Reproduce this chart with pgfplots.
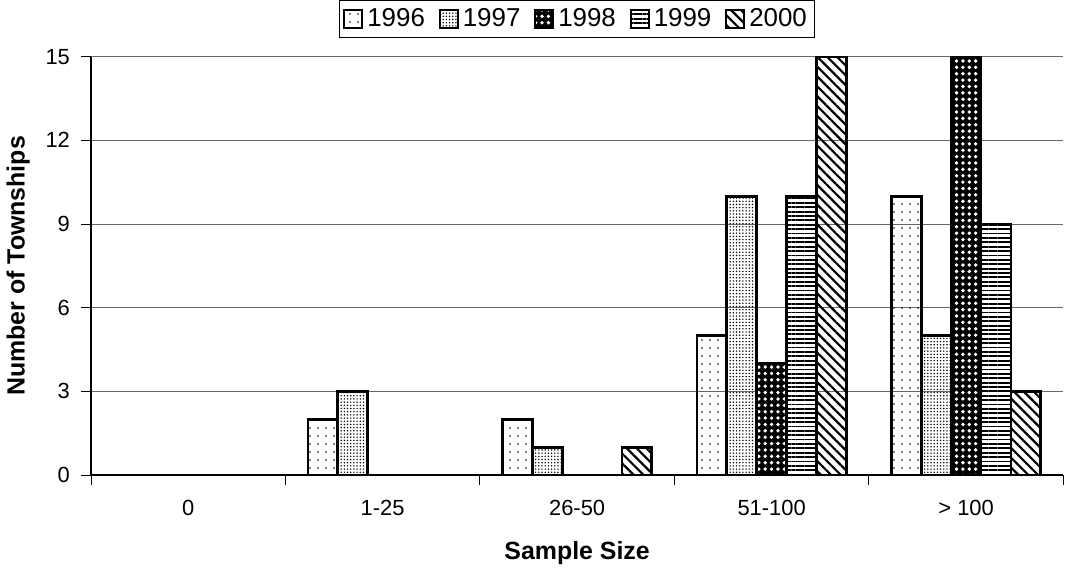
\documentclass[border=0pt]{standalone}
\usepackage{fontspec}
\setmainfont{Liberation Sans}
\usepackage{pgfplots}
\pgfplotsset{compat=1.18}
\usetikzlibrary{patterns.meta}
\begin{document}
\begin{tikzpicture}
\begin{axis}[
  scale only axis,
  width=488pt, height=210pt,
  ybar=0pt, bar width=15pt,
  xmin=-0.5, xmax=4.5,
  ymin=0, ymax=15,
  ytick={0,3,...,15},
  xtick={-0.5,0.5,...,4.5},
  xticklabels={},
  extra x ticks={0,1,2,3,4},
  extra x tick labels={0,1-25,26-50,51-100,{> 100}},
  extra x tick style={major tick length=0pt, xticklabel style={yshift=-9pt}},
  axis x line*=bottom, axis y line*=left,
  tick align=outside, major tick length=5pt,
  tick style={black, thin},
  axis line style={black, thick},
  ymajorgrids, grid style={black!60, thin},
  /pgf/number format/assume math mode=true,
  tick label style={font=\fontsize{11}{13}\selectfont},
  yticklabel style={xshift=-2pt},
  xlabel={\textbf{Sample Size}},
  ylabel={\textbf{Number of Townships}},
  label style={font=\fontsize{12.5}{14}\selectfont},
  xlabel style={yshift=-1pt},
  ylabel style={yshift=1pt},
  legend columns=-1,
  legend style={at={(0.5,1.045)}, anchor=south, draw=black, thin,
    font=\fontsize{13}{15}\selectfont, inner sep=2pt,
    /tikz/every even column/.append style={column sep=5pt}},
  legend image code/.code={\draw[#1, line width=1pt] (0pt,-4.5pt) rectangle (9pt,4.5pt);},
  every axis plot/.append style={draw=black, line width=1.4pt},
]
\addplot[pattern={Dots[distance=4pt, radius=0.45pt]}] coordinates {(1,2) (2,2) (3,5) (4,10)};
\addplot[pattern={Dots[distance=1.6pt, radius=0.4pt]}] coordinates {(1,3) (2,1) (3,10) (4,5)};
\addplot[fill=black, postaction={pattern={Dots[distance=3.2pt, radius=0.95pt]}, pattern color=white}] coordinates {(3,4) (4,15)};
\addplot[pattern={Lines[angle=0, distance=2.2pt, line width=0.9pt]}] coordinates {(3,10) (4,9)};
\addplot[pattern={Lines[angle=-45, distance=3.5pt, line width=1.1pt]}] coordinates {(2,1) (3,15) (4,3)};
\legend{1996,1997,1998,1999,2000}
\end{axis}
\end{tikzpicture}
\end{document}
